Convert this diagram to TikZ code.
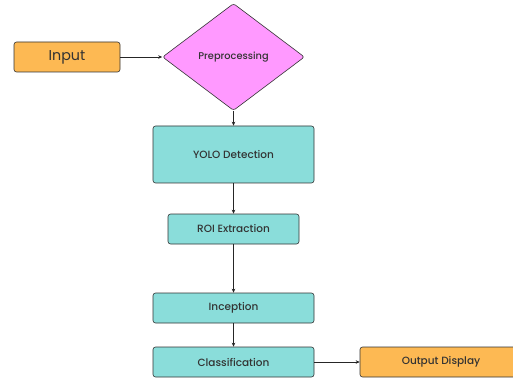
\documentclass[tikz,border=0pt]{standalone}
\usepackage{fontspec}
\setmainfont{Poppins}
\newfontfamily\popmed{Poppins Medium}
\usetikzlibrary{shapes.geometric,arrows.meta}
\definecolor{boxteal}{HTML}{8ADDDA}
\definecolor{boxorange}{HTML}{FDB953}
\definecolor{boxpink}{HTML}{FF99FF}
\definecolor{textgray}{HTML}{333333}
\begin{document}
\begin{tikzpicture}[x=1pt, y=-1pt,
    procbox/.style={draw=black!80, rounded corners=2.5pt, fill=boxteal, line width=0.6pt,
                    text=textgray, font=\popmed\fontsize{10.5}{12}\selectfont, inner sep=0pt},
    iobox/.style={procbox, fill=boxorange},
    flow/.style={-{Stealth[length=4pt,width=3.5pt]}, line width=0.6pt, black!85}]

\useasboundingbox (0,0) rectangle (513,379);
\clip (0,0) rectangle (513,379);

% --- Input and preprocessing ---
\node[iobox, minimum width=106pt, minimum height=30pt, font=\fontsize{14.3}{16}\selectfont] (input) at (67,57) {Input};
\node[diamond, draw=black!80, fill=boxpink, line width=0.6pt, rounded corners=2.5pt, aspect=1.33,
      minimum width=142pt, minimum height=107pt, inner sep=0pt, text=textgray,
      font=\popmed\fontsize{9.8}{11}\selectfont] (prep) at (233.5,57) {Preprocessing};

% --- Processing chain ---
\node[procbox, minimum width=161pt, minimum height=57pt] (yolo) at (233.5,154.5) {YOLO Detection};
\node[procbox, minimum width=131pt, minimum height=30pt] (roi) at (233.5,229) {ROI Extraction};
\node[procbox, minimum width=161pt, minimum height=30pt] (incep) at (233.5,308) {Inception};
\node[procbox, minimum width=161pt, minimum height=30pt] (classif) at (233.5,362) {Classification};
\node[iobox, minimum width=162pt, minimum height=30pt] (output) at (441,362) {Output Display};

% --- Arrows ---
\draw[flow] (input) -- (prep);
\draw[flow] (prep) -- (yolo);
\draw[flow] (yolo) -- (roi);
\draw[flow] (roi) -- (incep);
\draw[flow] (incep) -- (classif);
\draw[flow] (classif) -- (output);

\end{tikzpicture}
\end{document}
